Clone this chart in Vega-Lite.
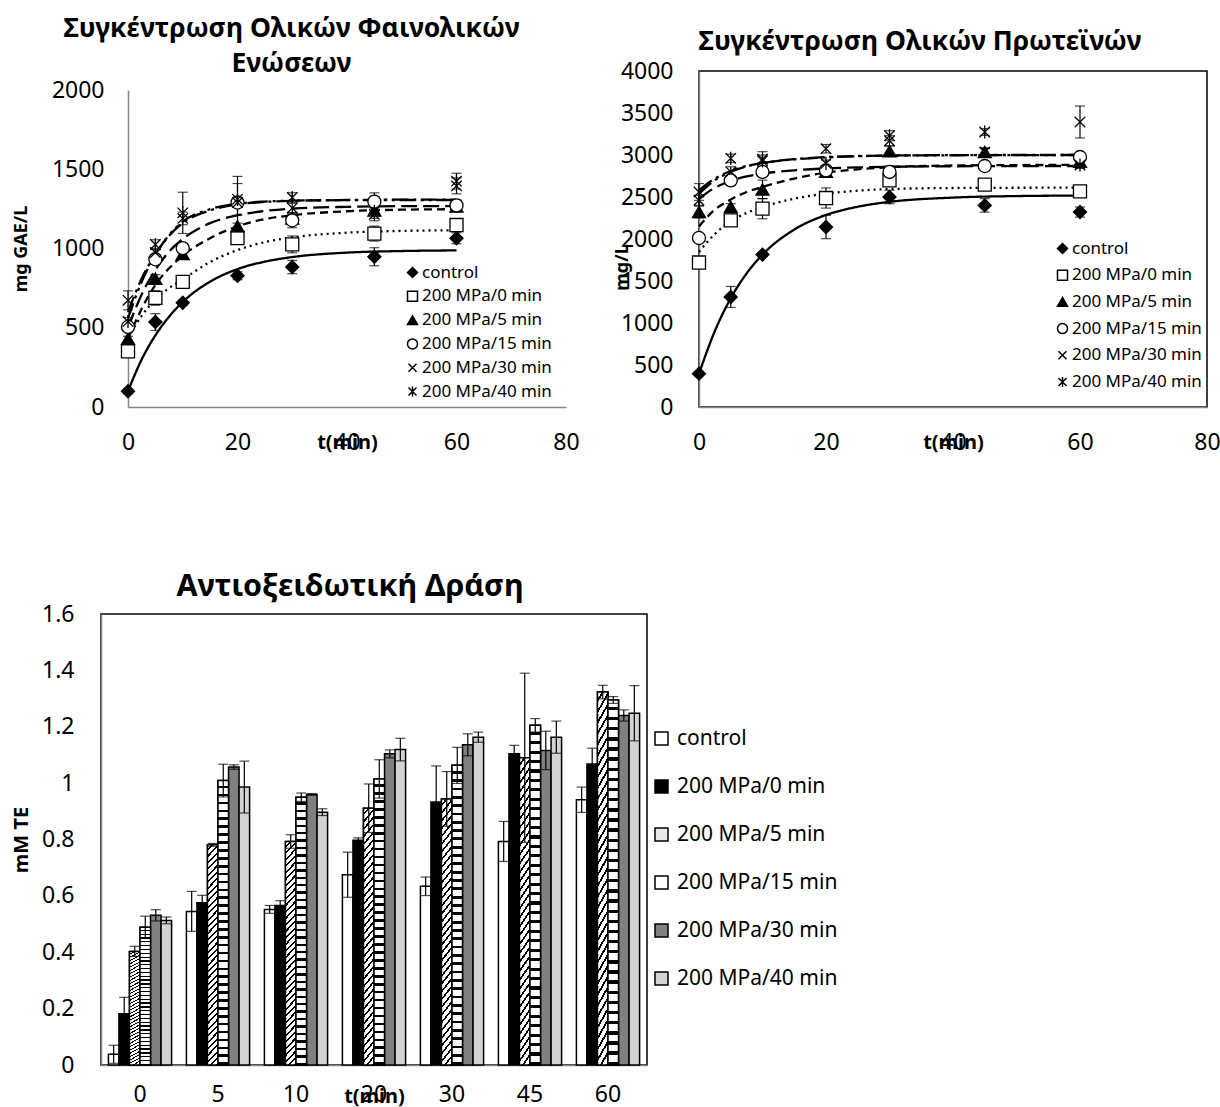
{
"$schema":"https://vega.github.io/schema/vega-lite/v6.json",
"background":"white",
"padding":{"left":10,"top":15,"right":0,"bottom":0},
"config":{
 "font":"Noto Sans",
 "view":{"stroke":"black","strokeWidth":1.5},
 "axis":{"grid":false,"ticks":false,"domainColor":"#868686","domainWidth":1.5,"labelColor":"black","labelFontSize":23,"titleColor":"black","titleFontWeight":"bold","zindex":1,"labelFlush":false,"labelOverlap":false},
 "legend":{"labelColor":"black","labelLimit":0},
 "title":{"color":"black","fontWeight":"bold"}
},
"datasets":{
"ptsA":[
{"t":0,"v":99,"e":15,"s":"control"},{"t":5,"v":536,"e":53,"s":"control"},{"t":10,"v":658,"e":15,"s":"control"},{"t":20,"v":828,"e":25,"s":"control"},{"t":30,"v":883,"e":42,"s":"control"},{"t":45,"v":948,"e":57,"s":"control"},{"t":60,"v":1065,"e":35,"s":"control"},
{"t":0,"v":351,"e":20,"s":"200 MPa/0 min"},{"t":5,"v":688,"e":46,"s":"200 MPa/0 min"},{"t":10,"v":789,"e":15,"s":"200 MPa/0 min"},{"t":20,"v":1066,"e":15,"s":"200 MPa/0 min"},{"t":30,"v":1026,"e":53,"s":"200 MPa/0 min"},{"t":45,"v":1094,"e":47,"s":"200 MPa/0 min"},{"t":60,"v":1148,"e":25,"s":"200 MPa/0 min"},
{"t":0,"v":431,"e":15,"s":"200 MPa/5 min"},{"t":5,"v":810,"e":25,"s":"200 MPa/5 min"},{"t":10,"v":965,"e":12,"s":"200 MPa/5 min"},{"t":20,"v":1140,"e":20,"s":"200 MPa/5 min"},{"t":30,"v":1190,"e":25,"s":"200 MPa/5 min"},{"t":45,"v":1240,"e":30,"s":"200 MPa/5 min"},{"t":60,"v":1265,"e":30,"s":"200 MPa/5 min"},
{"t":0,"v":505,"e":20,"s":"200 MPa/15 min"},{"t":5,"v":932,"e":30,"s":"200 MPa/15 min"},{"t":10,"v":1002,"e":20,"s":"200 MPa/15 min"},{"t":20,"v":1290,"e":30,"s":"200 MPa/15 min"},{"t":30,"v":1178,"e":47,"s":"200 MPa/15 min"},{"t":45,"v":1296,"e":55,"s":"200 MPa/15 min"},{"t":60,"v":1272,"e":35,"s":"200 MPa/15 min"},
{"t":0,"v":673,"e":60,"s":"200 MPa/30 min"},{"t":5,"v":975,"e":25,"s":"200 MPa/30 min"},{"t":10,"v":1190,"e":40,"s":"200 MPa/30 min"},{"t":20,"v":1290,"e":165,"s":"200 MPa/30 min"},{"t":30,"v":1255,"e":30,"s":"200 MPa/30 min"},{"t":45,"v":1215,"e":40,"s":"200 MPa/30 min"},{"t":60,"v":1395,"e":50,"s":"200 MPa/30 min"},
{"t":0,"v":540,"e":25,"s":"200 MPa/40 min"},{"t":5,"v":1025,"e":30,"s":"200 MPa/40 min"},{"t":10,"v":1225,"e":130,"s":"200 MPa/40 min"},{"t":20,"v":1310,"e":100,"s":"200 MPa/40 min"},{"t":30,"v":1322,"e":30,"s":"200 MPa/40 min"},{"t":45,"v":1235,"e":45,"s":"200 MPa/40 min"},{"t":60,"v":1425,"e":50,"s":"200 MPa/40 min"}
],
"curA":[
{"t":0,"v":100,"c":"control"},{"t":2.5,"v":300,"c":"control"},{"t":5,"v":452,"c":"control"},{"t":7.5,"v":570,"c":"control"},{"t":10,"v":663,"c":"control"},{"t":15,"v":791,"c":"control"},{"t":20,"v":870,"c":"control"},{"t":25,"v":917,"c":"control"},{"t":30,"v":946,"c":"control"},{"t":40,"v":974,"c":"control"},{"t":50,"v":984,"c":"control"},{"t":60,"v":988,"c":"control"},
{"t":0,"v":440,"c":"0 min"},{"t":2.5,"v":575,"c":"0 min"},{"t":5,"v":680,"c":"0 min"},{"t":7.5,"v":750,"c":"0 min"},{"t":10,"v":805,"c":"0 min"},{"t":15,"v":915,"c":"0 min"},{"t":20,"v":990,"c":"0 min"},{"t":25,"v":1040,"c":"0 min"},{"t":30,"v":1070,"c":"0 min"},{"t":40,"v":1100,"c":"0 min"},{"t":50,"v":1111,"c":"0 min"},{"t":60,"v":1115,"c":"0 min"},
{"t":0,"v":430,"c":"5 min"},{"t":2.5,"v":620,"c":"5 min"},{"t":5,"v":770,"c":"5 min"},{"t":7.5,"v":875,"c":"5 min"},{"t":10,"v":955,"c":"5 min"},{"t":15,"v":1065,"c":"5 min"},{"t":20,"v":1140,"c":"5 min"},{"t":25,"v":1185,"c":"5 min"},{"t":30,"v":1210,"c":"5 min"},{"t":40,"v":1235,"c":"5 min"},{"t":50,"v":1245,"c":"5 min"},{"t":60,"v":1248,"c":"5 min"},
{"t":0,"v":500,"c":"15 min"},{"t":2.5,"v":710,"c":"15 min"},{"t":5,"v":865,"c":"15 min"},{"t":7.5,"v":980,"c":"15 min"},{"t":10,"v":1060,"c":"15 min"},{"t":15,"v":1160,"c":"15 min"},{"t":20,"v":1210,"c":"15 min"},{"t":25,"v":1237,"c":"15 min"},{"t":30,"v":1252,"c":"15 min"},{"t":40,"v":1263,"c":"15 min"},{"t":50,"v":1267,"c":"15 min"},{"t":60,"v":1268,"c":"15 min"},
{"t":0,"v":600,"c":"30 min"},{"t":2.5,"v":810,"c":"30 min"},{"t":5,"v":965,"c":"30 min"},{"t":7.5,"v":1080,"c":"30 min"},{"t":10,"v":1160,"c":"30 min"},{"t":15,"v":1240,"c":"30 min"},{"t":20,"v":1278,"c":"30 min"},{"t":25,"v":1294,"c":"30 min"},{"t":30,"v":1301,"c":"30 min"},{"t":40,"v":1306,"c":"30 min"},{"t":50,"v":1308,"c":"30 min"},{"t":60,"v":1308,"c":"30 min"},
{"t":0,"v":560,"c":"40 min"},{"t":2.5,"v":790,"c":"40 min"},{"t":5,"v":960,"c":"40 min"},{"t":7.5,"v":1085,"c":"40 min"},{"t":10,"v":1170,"c":"40 min"},{"t":15,"v":1248,"c":"40 min"},{"t":20,"v":1282,"c":"40 min"},{"t":25,"v":1296,"c":"40 min"},{"t":30,"v":1302,"c":"40 min"},{"t":40,"v":1305,"c":"40 min"},{"t":50,"v":1306,"c":"40 min"},{"t":60,"v":1306,"c":"40 min"}
],
"ptsB":[
{"t":0,"v":397,"e":20,"s":"control"},{"t":5,"v":1310,"e":125,"s":"control"},{"t":10,"v":1814,"e":25,"s":"control"},{"t":20,"v":2143,"e":139,"s":"control"},{"t":30,"v":2500,"e":80,"s":"control"},{"t":45,"v":2400,"e":80,"s":"control"},{"t":60,"v":2321,"e":60,"s":"control"},
{"t":0,"v":1720,"e":25,"s":"200 MPa/0 min"},{"t":5,"v":2222,"e":30,"s":"200 MPa/0 min"},{"t":10,"v":2361,"e":120,"s":"200 MPa/0 min"},{"t":20,"v":2488,"e":120,"s":"200 MPa/0 min"},{"t":30,"v":2698,"e":40,"s":"200 MPa/0 min"},{"t":45,"v":2647,"e":50,"s":"200 MPa/0 min"},{"t":60,"v":2567,"e":50,"s":"200 MPa/0 min"},
{"t":0,"v":2321,"e":70,"s":"200 MPa/5 min"},{"t":5,"v":2381,"e":40,"s":"200 MPa/5 min"},{"t":10,"v":2591,"e":110,"s":"200 MPa/5 min"},{"t":20,"v":2800,"e":40,"s":"200 MPa/5 min"},{"t":30,"v":3045,"e":60,"s":"200 MPa/5 min"},{"t":45,"v":3036,"e":50,"s":"200 MPa/5 min"},{"t":60,"v":2920,"e":40,"s":"200 MPa/5 min"},
{"t":0,"v":2012,"e":40,"s":"200 MPa/15 min"},{"t":5,"v":2698,"e":50,"s":"200 MPa/15 min"},{"t":10,"v":2798,"e":40,"s":"200 MPa/15 min"},{"t":20,"v":2817,"e":40,"s":"200 MPa/15 min"},{"t":30,"v":2798,"e":70,"s":"200 MPa/15 min"},{"t":45,"v":2869,"e":40,"s":"200 MPa/15 min"},{"t":60,"v":2976,"e":50,"s":"200 MPa/15 min"},
{"t":0,"v":2560,"e":100,"s":"200 MPa/30 min"},{"t":5,"v":2800,"e":60,"s":"200 MPa/30 min"},{"t":10,"v":2950,"e":90,"s":"200 MPa/30 min"},{"t":20,"v":3075,"e":50,"s":"200 MPa/30 min"},{"t":30,"v":3170,"e":60,"s":"200 MPa/30 min"},{"t":45,"v":3036,"e":40,"s":"200 MPa/30 min"},{"t":60,"v":3393,"e":190,"s":"200 MPa/30 min"},
{"t":0,"v":2460,"e":60,"s":"200 MPa/40 min"},{"t":5,"v":2960,"e":50,"s":"200 MPa/40 min"},{"t":10,"v":2930,"e":70,"s":"200 MPa/40 min"},{"t":20,"v":2900,"e":40,"s":"200 MPa/40 min"},{"t":30,"v":3230,"e":60,"s":"200 MPa/40 min"},{"t":45,"v":3274,"e":40,"s":"200 MPa/40 min"},{"t":60,"v":2880,"e":40,"s":"200 MPa/40 min"}
],
"curB":[
{"t":0,"v":397,"c":"control"},{"t":2.5,"v":905,"c":"control"},{"t":5,"v":1295,"c":"control"},{"t":7.5,"v":1590,"c":"control"},{"t":10,"v":1814,"c":"control"},{"t":15,"v":2112,"c":"control"},{"t":20,"v":2286,"c":"control"},{"t":25,"v":2384,"c":"control"},{"t":30,"v":2442,"c":"control"},{"t":40,"v":2493,"c":"control"},{"t":50,"v":2511,"c":"control"},{"t":60,"v":2517,"c":"control"},
{"t":0,"v":1845,"c":"0 min"},{"t":2.5,"v":2060,"c":"0 min"},{"t":5,"v":2210,"c":"0 min"},{"t":7.5,"v":2310,"c":"0 min"},{"t":10,"v":2380,"c":"0 min"},{"t":15,"v":2480,"c":"0 min"},{"t":20,"v":2540,"c":"0 min"},{"t":25,"v":2575,"c":"0 min"},{"t":30,"v":2595,"c":"0 min"},{"t":40,"v":2607,"c":"0 min"},{"t":50,"v":2610,"c":"0 min"},{"t":60,"v":2611,"c":"0 min"},
{"t":0,"v":2150,"c":"5 min"},{"t":2.5,"v":2350,"c":"5 min"},{"t":5,"v":2470,"c":"5 min"},{"t":7.5,"v":2560,"c":"5 min"},{"t":10,"v":2620,"c":"5 min"},{"t":15,"v":2720,"c":"5 min"},{"t":20,"v":2790,"c":"5 min"},{"t":25,"v":2830,"c":"5 min"},{"t":30,"v":2855,"c":"5 min"},{"t":40,"v":2875,"c":"5 min"},{"t":50,"v":2880,"c":"5 min"},{"t":60,"v":2882,"c":"5 min"},
{"t":0,"v":2480,"c":"15 min"},{"t":2.5,"v":2610,"c":"15 min"},{"t":5,"v":2690,"c":"15 min"},{"t":7.5,"v":2745,"c":"15 min"},{"t":10,"v":2778,"c":"15 min"},{"t":15,"v":2818,"c":"15 min"},{"t":20,"v":2840,"c":"15 min"},{"t":25,"v":2852,"c":"15 min"},{"t":30,"v":2860,"c":"15 min"},{"t":40,"v":2866,"c":"15 min"},{"t":50,"v":2868,"c":"15 min"},{"t":60,"v":2869,"c":"15 min"},
{"t":0,"v":2580,"c":"30 min"},{"t":2.5,"v":2720,"c":"30 min"},{"t":5,"v":2810,"c":"30 min"},{"t":7.5,"v":2870,"c":"30 min"},{"t":10,"v":2905,"c":"30 min"},{"t":15,"v":2950,"c":"30 min"},{"t":20,"v":2975,"c":"30 min"},{"t":25,"v":2988,"c":"30 min"},{"t":30,"v":2994,"c":"30 min"},{"t":40,"v":2998,"c":"30 min"},{"t":50,"v":3000,"c":"30 min"},{"t":60,"v":3000,"c":"30 min"},
{"t":0,"v":2540,"c":"40 min"},{"t":2.5,"v":2700,"c":"40 min"},{"t":5,"v":2800,"c":"40 min"},{"t":7.5,"v":2865,"c":"40 min"},{"t":10,"v":2905,"c":"40 min"},{"t":15,"v":2948,"c":"40 min"},{"t":20,"v":2972,"c":"40 min"},{"t":25,"v":2985,"c":"40 min"},{"t":30,"v":2992,"c":"40 min"},{"t":40,"v":2997,"c":"40 min"},{"t":50,"v":2999,"c":"40 min"},{"t":60,"v":3000,"c":"40 min"}
],
"bars":[
{"t":"0","s":"control","v":0.038,"e":0.032},{"t":"0","s":"200 MPa/0 min","v":0.182,"e":0.058},{"t":"0","s":"200 MPa/5 min","v":0.403,"e":0.018},{"t":"0","s":"200 MPa/15 min","v":0.489,"e":0.039},{"t":"0","s":"200 MPa/30 min","v":0.531,"e":0.02},{"t":"0","s":"200 MPa/40 min","v":0.513,"e":0.012},
{"t":"5","s":"control","v":0.545,"e":0.071},{"t":"5","s":"200 MPa/0 min","v":0.576,"e":0.026},{"t":"5","s":"200 MPa/5 min","v":0.781,"e":0.005},{"t":"5","s":"200 MPa/15 min","v":1.009,"e":0.058},{"t":"5","s":"200 MPa/30 min","v":1.057,"e":0.008},{"t":"5","s":"200 MPa/40 min","v":0.986,"e":0.092},
{"t":"10","s":"control","v":0.552,"e":0.014},{"t":"10","s":"200 MPa/0 min","v":0.566,"e":0.017},{"t":"10","s":"200 MPa/5 min","v":0.793,"e":0.024},{"t":"10","s":"200 MPa/15 min","v":0.95,"e":0.015},{"t":"10","s":"200 MPa/30 min","v":0.96,"e":0.003},{"t":"10","s":"200 MPa/40 min","v":0.897,"e":0.012},
{"t":"20","s":"control","v":0.675,"e":0.08},{"t":"20","s":"200 MPa/0 min","v":0.797,"e":0.009},{"t":"20","s":"200 MPa/5 min","v":0.911,"e":0.086},{"t":"20","s":"200 MPa/15 min","v":1.015,"e":0.068},{"t":"20","s":"200 MPa/30 min","v":1.104,"e":0.014},{"t":"20","s":"200 MPa/40 min","v":1.119,"e":0.04},
{"t":"30","s":"control","v":0.634,"e":0.033},{"t":"30","s":"200 MPa/0 min","v":0.933,"e":0.128},{"t":"30","s":"200 MPa/5 min","v":0.944,"e":0.097},{"t":"30","s":"200 MPa/15 min","v":1.063,"e":0.064},{"t":"30","s":"200 MPa/30 min","v":1.136,"e":0.039},{"t":"30","s":"200 MPa/40 min","v":1.163,"e":0.018},
{"t":"45","s":"control","v":0.793,"e":0.071},{"t":"45","s":"200 MPa/0 min","v":1.104,"e":0.03},{"t":"45","s":"200 MPa/5 min","v":1.09,"e":0.3},{"t":"45","s":"200 MPa/15 min","v":1.205,"e":0.024},{"t":"45","s":"200 MPa/30 min","v":1.116,"e":0.068},{"t":"45","s":"200 MPa/40 min","v":1.163,"e":0.057},
{"t":"60","s":"control","v":0.941,"e":0.045},{"t":"60","s":"200 MPa/0 min","v":1.068,"e":0.056},{"t":"60","s":"200 MPa/5 min","v":1.323,"e":0.024},{"t":"60","s":"200 MPa/15 min","v":1.295,"e":0.012},{"t":"60","s":"200 MPa/30 min","v":1.24,"e":0.02},{"t":"60","s":"200 MPa/40 min","v":1.248,"e":0.098}
]
},
"spacing":115,
"resolve":{"scale":{"fill":"independent","shape":"independent","strokeDash":"independent"},"legend":{"fill":"independent","shape":"independent","strokeDash":"independent"}},
"vconcat":[
{"spacing":32,
 "resolve":{"scale":{"fill":"independent","shape":"independent","strokeDash":"independent"},"legend":{"fill":"independent","shape":"independent","strokeDash":"independent"}},
 "hconcat":[
 {"width":465,"height":336,
  "view":{"stroke":null},
  "title":{"text":["Συγκέντρωση Ολικών Φαινολικών","Ενώσεων"],"fontSize":26.5,"lineHeight":35,"dx":-42,"offset":-6},
  "encoding":{
   "x":{"field":"t","type":"quantitative","scale":{"domain":[0,80],"range":[27,465],"nice":false,"zero":false},"axis":{"values":[0,20,40,60,80],"title":"t(min)","titleFontSize":20,"titleY":35,"titleBaseline":"middle","labelPadding":24}},
   "y":{"field":"v","type":"quantitative","scale":{"domain":[0,2000],"range":[336,19],"nice":false},"axis":{"values":[0,500,1000,1500,2000],"format":"d","title":"mg GAE/L","titleFontSize":18,"offset":-27,"labelPadding":24,"titleX":-107,"titleY":177.5,"titleBaseline":"middle"}}
  },
  "layer":[
   {"data":{"values":[{}]},"mark":{"type":"rect","fill":null,"stroke":"black","strokeWidth":1.5},"encoding":{"x":{"datum":0,"type":"quantitative"},"x2":{"datum":80},"y":{"datum":0,"type":"quantitative"},"y2":{"datum":2000}}},
   {"data":{"name":"curA"},"mark":{"type":"line","interpolate":"monotone","color":"black","strokeWidth":2.3},"encoding":{"strokeDash":{"field":"c","type":"nominal","scale":{"domain":["control","0 min","5 min","15 min","30 min","40 min"],"range":[[1,0],[2,4],[8,5],[16,6],[16,5,3,5],[16,5,3,5,3,5]]},"legend":null}}},
   {"data":{"name":"ptsA"},"mark":{"type":"errorbar","ticks":{"size":10},"color":"black","thickness":1.2},"encoding":{"yError":{"field":"e"}}},
   {"data":{"name":"ptsA"},"mark":{"type":"point","stroke":"black","strokeWidth":1.3,"opacity":1,"size":170},
    "encoding":{
     "shape":{"field":"s","type":"nominal","scale":{"domain":["control","200 MPa/0 min","200 MPa/5 min","200 MPa/15 min","200 MPa/30 min","200 MPa/40 min"],"range":["diamond","square","triangle-up","circle","M-0.8,-0.8L0.8,0.8M0.8,-0.8L-0.8,0.8","M-0.8,-0.8L0.8,0.8M0.8,-0.8L-0.8,0.8M0,-1L0,1"]},"legend":{"title":null,"orient":"none","legendX":303,"legendY":193,"labelFontSize":17,"symbolSize":100,"rowPadding":5.8,"labelOffset":1,"padding":0,"encode":{"symbols":{"update":{"stroke":{"value":"black"},"strokeWidth":{"value":1.2}}}}}},
     "fill":{"field":"s","type":"nominal","scale":{"domain":["control","200 MPa/0 min","200 MPa/5 min","200 MPa/15 min","200 MPa/30 min","200 MPa/40 min"],"range":["black","white","black","white","transparent","transparent"]},"legend":{"title":null,"orient":"none","legendX":303,"legendY":193,"labelFontSize":17,"symbolSize":100,"rowPadding":5.8,"labelOffset":1,"padding":0,"encode":{"symbols":{"update":{"stroke":{"value":"black"},"strokeWidth":{"value":1.2}}}}}}
    }}
  ]
 },
 {"width":508,"height":336,
  "title":{"text":"Συγκέντρωση Ολικών Πρωτεϊνών","fontSize":26.5,"dx":-33,"offset":5},
  "encoding":{
   "x":{"field":"t","type":"quantitative","scale":{"domain":[0,80],"nice":false,"zero":false},"axis":{"values":[0,20,40,60,80],"title":"t(min)","titleFontSize":20,"titleY":35,"titleBaseline":"middle","labelPadding":24}},
   "y":{"field":"v","type":"quantitative","scale":{"domain":[0,4000],"nice":false},"axis":{"values":[0,500,1000,1500,2000,2500,3000,3500,4000],"format":"d","title":"mg/L","titleFontSize":18,"labelPadding":26,"titleX":-77,"titleY":196,"titleBaseline":"middle"}}
  },
  "layer":[
   {"data":{"name":"curB"},"mark":{"type":"line","interpolate":"monotone","color":"black","strokeWidth":2.3},"encoding":{"strokeDash":{"field":"c","type":"nominal","scale":{"domain":["control","0 min","5 min","15 min","30 min","40 min"],"range":[[1,0],[2,4],[8,5],[16,6],[16,5,3,5],[16,5,3,5,3,5]]},"legend":null}}},
   {"data":{"name":"ptsB"},"mark":{"type":"errorbar","ticks":{"size":10},"color":"black","thickness":1.2},"encoding":{"yError":{"field":"e"}}},
   {"data":{"name":"ptsB"},"mark":{"type":"point","stroke":"black","strokeWidth":1.3,"opacity":1,"size":170},
    "encoding":{
     "shape":{"field":"s","type":"nominal","scale":{"domain":["control","200 MPa/0 min","200 MPa/5 min","200 MPa/15 min","200 MPa/30 min","200 MPa/40 min"],"range":["diamond","square","triangle-up","circle","M-0.8,-0.8L0.8,0.8M0.8,-0.8L-0.8,0.8","M-0.8,-0.8L0.8,0.8M0.8,-0.8L-0.8,0.8M0,-1L0,1"]},"legend":{"title":null,"orient":"none","legendX":355,"legendY":169,"labelFontSize":17,"symbolSize":100,"rowPadding":8.7,"labelOffset":1,"padding":0,"encode":{"symbols":{"update":{"stroke":{"value":"black"},"strokeWidth":{"value":1.2}}}}}},
     "fill":{"field":"s","type":"nominal","scale":{"domain":["control","200 MPa/0 min","200 MPa/5 min","200 MPa/15 min","200 MPa/30 min","200 MPa/40 min"],"range":["black","white","black","white","transparent","transparent"]},"legend":{"title":null,"orient":"none","legendX":355,"legendY":169,"labelFontSize":17,"symbolSize":100,"rowPadding":8.7,"labelOffset":1,"padding":0,"encode":{"symbols":{"update":{"stroke":{"value":"black"},"strokeWidth":{"value":1.2}}}}}}
    }}
  ]
 }
 ]
},
{"width":546,"height":451,
 "title":{"text":"Αντιοξειδωτική Δράση","fontSize":30.5,"dx":-24,"offset":1},
 "data":{"name":"bars"},
 "encoding":{
  "x":{"field":"t","type":"nominal","sort":["0","5","10","20","30","45","60"],"scale":{"paddingInner":0.19,"paddingOuter":0.095},"axis":{"labelAngle":0,"title":"t(min)","titleFontSize":20,"titleY":31,"titleBaseline":"middle","labelPadding":18}},
  "xOffset":{"field":"s","type":"nominal","sort":["control","200 MPa/0 min","200 MPa/5 min","200 MPa/15 min","200 MPa/30 min","200 MPa/40 min"],"scale":{"paddingInner":0,"paddingOuter":0}},
  "y":{"field":"v","type":"quantitative","scale":{"domain":[0,1.6],"nice":false},"axis":{"values":[0,0.2,0.4,0.6,0.8,1,1.2,1.4,1.6],"format":"~g","title":"mM TE","titleFontSize":20,"labelPadding":27,"titleX":-80,"titleY":225.5,"titleBaseline":"middle"}}
 },
 "layer":[
  {"mark":{"type":"bar","stroke":"black","strokeWidth":1.5},
   "encoding":{"fill":{"field":"s","type":"nominal","scale":{"domain":["control","200 MPa/0 min","200 MPa/5 min","200 MPa/15 min","200 MPa/30 min","200 MPa/40 min"],"range":["white","black","#e8e8e8","white","#808080","#d3d3d3"]},
    "legend":{"title":null,"orient":"none","legendX":550,"legendY":114,"labelFontSize":21,"symbolType":"square","symbolSize":169,"rowPadding":26,"symbolStrokeColor":"black","symbolStrokeWidth":1.5,"labelOffset":5,"padding":0}}}},
  {"transform":[{"filter":{"field":"s","equal":"200 MPa/5 min"}}],
   "mark":{"type":"bar","stroke":"black","strokeWidth":1.5,"fill":{"gradient":"linear","x1":0,"y1":0,"x2":0.0524,"y2":1.0474,"stops":[
{"offset":0,"color":"white"},{"offset":0.0185,"color":"white"},{"offset":0.0185,"color":"black"},{"offset":0.0278,"color":"black"},
{"offset":0.0278,"color":"white"},{"offset":0.0463,"color":"white"},{"offset":0.0463,"color":"black"},{"offset":0.0556,"color":"black"},
{"offset":0.0556,"color":"white"},{"offset":0.0741,"color":"white"},{"offset":0.0741,"color":"black"},{"offset":0.0833,"color":"black"},
{"offset":0.0833,"color":"white"},{"offset":0.1019,"color":"white"},{"offset":0.1019,"color":"black"},{"offset":0.1111,"color":"black"},
{"offset":0.1111,"color":"white"},{"offset":0.1296,"color":"white"},{"offset":0.1296,"color":"black"},{"offset":0.1389,"color":"black"},
{"offset":0.1389,"color":"white"},{"offset":0.1574,"color":"white"},{"offset":0.1574,"color":"black"},{"offset":0.1667,"color":"black"},
{"offset":0.1667,"color":"white"},{"offset":0.1852,"color":"white"},{"offset":0.1852,"color":"black"},{"offset":0.1944,"color":"black"},
{"offset":0.1944,"color":"white"},{"offset":0.213,"color":"white"},{"offset":0.213,"color":"black"},{"offset":0.2222,"color":"black"},
{"offset":0.2222,"color":"white"},{"offset":0.2407,"color":"white"},{"offset":0.2407,"color":"black"},{"offset":0.25,"color":"black"},
{"offset":0.25,"color":"white"},{"offset":0.2685,"color":"white"},{"offset":0.2685,"color":"black"},{"offset":0.2778,"color":"black"},
{"offset":0.2778,"color":"white"},{"offset":0.2963,"color":"white"},{"offset":0.2963,"color":"black"},{"offset":0.3056,"color":"black"},
{"offset":0.3056,"color":"white"},{"offset":0.3241,"color":"white"},{"offset":0.3241,"color":"black"},{"offset":0.3333,"color":"black"},
{"offset":0.3333,"color":"white"},{"offset":0.3519,"color":"white"},{"offset":0.3519,"color":"black"},{"offset":0.3611,"color":"black"},
{"offset":0.3611,"color":"white"},{"offset":0.3796,"color":"white"},{"offset":0.3796,"color":"black"},{"offset":0.3889,"color":"black"},
{"offset":0.3889,"color":"white"},{"offset":0.4074,"color":"white"},{"offset":0.4074,"color":"black"},{"offset":0.4167,"color":"black"},
{"offset":0.4167,"color":"white"},{"offset":0.4352,"color":"white"},{"offset":0.4352,"color":"black"},{"offset":0.4444,"color":"black"},
{"offset":0.4444,"color":"white"},{"offset":0.463,"color":"white"},{"offset":0.463,"color":"black"},{"offset":0.4722,"color":"black"},
{"offset":0.4722,"color":"white"},{"offset":0.4907,"color":"white"},{"offset":0.4907,"color":"black"},{"offset":0.5,"color":"black"},
{"offset":0.5,"color":"white"},{"offset":0.5185,"color":"white"},{"offset":0.5185,"color":"black"},{"offset":0.5278,"color":"black"},
{"offset":0.5278,"color":"white"},{"offset":0.5463,"color":"white"},{"offset":0.5463,"color":"black"},{"offset":0.5556,"color":"black"},
{"offset":0.5556,"color":"white"},{"offset":0.5741,"color":"white"},{"offset":0.5741,"color":"black"},{"offset":0.5833,"color":"black"},
{"offset":0.5833,"color":"white"},{"offset":0.6019,"color":"white"},{"offset":0.6019,"color":"black"},{"offset":0.6111,"color":"black"},
{"offset":0.6111,"color":"white"},{"offset":0.6296,"color":"white"},{"offset":0.6296,"color":"black"},{"offset":0.6389,"color":"black"},
{"offset":0.6389,"color":"white"},{"offset":0.6574,"color":"white"},{"offset":0.6574,"color":"black"},{"offset":0.6667,"color":"black"},
{"offset":0.6667,"color":"white"},{"offset":0.6852,"color":"white"},{"offset":0.6852,"color":"black"},{"offset":0.6944,"color":"black"},
{"offset":0.6944,"color":"white"},{"offset":0.713,"color":"white"},{"offset":0.713,"color":"black"},{"offset":0.7222,"color":"black"},
{"offset":0.7222,"color":"white"},{"offset":0.7407,"color":"white"},{"offset":0.7407,"color":"black"},{"offset":0.75,"color":"black"},
{"offset":0.75,"color":"white"},{"offset":0.7685,"color":"white"},{"offset":0.7685,"color":"black"},{"offset":0.7778,"color":"black"},
{"offset":0.7778,"color":"white"},{"offset":0.7963,"color":"white"},{"offset":0.7963,"color":"black"},{"offset":0.8056,"color":"black"},
{"offset":0.8056,"color":"white"},{"offset":0.8241,"color":"white"},{"offset":0.8241,"color":"black"},{"offset":0.8333,"color":"black"},
{"offset":0.8333,"color":"white"},{"offset":0.8519,"color":"white"},{"offset":0.8519,"color":"black"},{"offset":0.8611,"color":"black"},
{"offset":0.8611,"color":"white"},{"offset":0.8796,"color":"white"},{"offset":0.8796,"color":"black"},{"offset":0.8889,"color":"black"},
{"offset":0.8889,"color":"white"},{"offset":0.9074,"color":"white"},{"offset":0.9074,"color":"black"},{"offset":0.9167,"color":"black"},
{"offset":0.9167,"color":"white"},{"offset":0.9352,"color":"white"},{"offset":0.9352,"color":"black"},{"offset":0.9444,"color":"black"},
{"offset":0.9444,"color":"white"},{"offset":0.963,"color":"white"},{"offset":0.963,"color":"black"},{"offset":0.9722,"color":"black"},
{"offset":0.9722,"color":"white"},{"offset":0.9907,"color":"white"},{"offset":0.9907,"color":"black"},{"offset":1,"color":"black"}
    ]}}},
  {"transform":[{"filter":{"field":"s","equal":"200 MPa/15 min"}}],
   "mark":{"type":"bar","stroke":"black","strokeWidth":1.5,"fill":{"gradient":"linear","x1":0,"y1":0,"x2":0,"y2":1,"stops":[
{"offset":0,"color":"white"},{"offset":0.0185,"color":"white"},{"offset":0.0185,"color":"black"},{"offset":0.0278,"color":"black"},
{"offset":0.0278,"color":"white"},{"offset":0.0463,"color":"white"},{"offset":0.0463,"color":"black"},{"offset":0.0556,"color":"black"},
{"offset":0.0556,"color":"white"},{"offset":0.0741,"color":"white"},{"offset":0.0741,"color":"black"},{"offset":0.0833,"color":"black"},
{"offset":0.0833,"color":"white"},{"offset":0.1019,"color":"white"},{"offset":0.1019,"color":"black"},{"offset":0.1111,"color":"black"},
{"offset":0.1111,"color":"white"},{"offset":0.1296,"color":"white"},{"offset":0.1296,"color":"black"},{"offset":0.1389,"color":"black"},
{"offset":0.1389,"color":"white"},{"offset":0.1574,"color":"white"},{"offset":0.1574,"color":"black"},{"offset":0.1667,"color":"black"},
{"offset":0.1667,"color":"white"},{"offset":0.1852,"color":"white"},{"offset":0.1852,"color":"black"},{"offset":0.1944,"color":"black"},
{"offset":0.1944,"color":"white"},{"offset":0.213,"color":"white"},{"offset":0.213,"color":"black"},{"offset":0.2222,"color":"black"},
{"offset":0.2222,"color":"white"},{"offset":0.2407,"color":"white"},{"offset":0.2407,"color":"black"},{"offset":0.25,"color":"black"},
{"offset":0.25,"color":"white"},{"offset":0.2685,"color":"white"},{"offset":0.2685,"color":"black"},{"offset":0.2778,"color":"black"},
{"offset":0.2778,"color":"white"},{"offset":0.2963,"color":"white"},{"offset":0.2963,"color":"black"},{"offset":0.3056,"color":"black"},
{"offset":0.3056,"color":"white"},{"offset":0.3241,"color":"white"},{"offset":0.3241,"color":"black"},{"offset":0.3333,"color":"black"},
{"offset":0.3333,"color":"white"},{"offset":0.3519,"color":"white"},{"offset":0.3519,"color":"black"},{"offset":0.3611,"color":"black"},
{"offset":0.3611,"color":"white"},{"offset":0.3796,"color":"white"},{"offset":0.3796,"color":"black"},{"offset":0.3889,"color":"black"},
{"offset":0.3889,"color":"white"},{"offset":0.4074,"color":"white"},{"offset":0.4074,"color":"black"},{"offset":0.4167,"color":"black"},
{"offset":0.4167,"color":"white"},{"offset":0.4352,"color":"white"},{"offset":0.4352,"color":"black"},{"offset":0.4444,"color":"black"},
{"offset":0.4444,"color":"white"},{"offset":0.463,"color":"white"},{"offset":0.463,"color":"black"},{"offset":0.4722,"color":"black"},
{"offset":0.4722,"color":"white"},{"offset":0.4907,"color":"white"},{"offset":0.4907,"color":"black"},{"offset":0.5,"color":"black"},
{"offset":0.5,"color":"white"},{"offset":0.5185,"color":"white"},{"offset":0.5185,"color":"black"},{"offset":0.5278,"color":"black"},
{"offset":0.5278,"color":"white"},{"offset":0.5463,"color":"white"},{"offset":0.5463,"color":"black"},{"offset":0.5556,"color":"black"},
{"offset":0.5556,"color":"white"},{"offset":0.5741,"color":"white"},{"offset":0.5741,"color":"black"},{"offset":0.5833,"color":"black"},
{"offset":0.5833,"color":"white"},{"offset":0.6019,"color":"white"},{"offset":0.6019,"color":"black"},{"offset":0.6111,"color":"black"},
{"offset":0.6111,"color":"white"},{"offset":0.6296,"color":"white"},{"offset":0.6296,"color":"black"},{"offset":0.6389,"color":"black"},
{"offset":0.6389,"color":"white"},{"offset":0.6574,"color":"white"},{"offset":0.6574,"color":"black"},{"offset":0.6667,"color":"black"},
{"offset":0.6667,"color":"white"},{"offset":0.6852,"color":"white"},{"offset":0.6852,"color":"black"},{"offset":0.6944,"color":"black"},
{"offset":0.6944,"color":"white"},{"offset":0.713,"color":"white"},{"offset":0.713,"color":"black"},{"offset":0.7222,"color":"black"},
{"offset":0.7222,"color":"white"},{"offset":0.7407,"color":"white"},{"offset":0.7407,"color":"black"},{"offset":0.75,"color":"black"},
{"offset":0.75,"color":"white"},{"offset":0.7685,"color":"white"},{"offset":0.7685,"color":"black"},{"offset":0.7778,"color":"black"},
{"offset":0.7778,"color":"white"},{"offset":0.7963,"color":"white"},{"offset":0.7963,"color":"black"},{"offset":0.8056,"color":"black"},
{"offset":0.8056,"color":"white"},{"offset":0.8241,"color":"white"},{"offset":0.8241,"color":"black"},{"offset":0.8333,"color":"black"},
{"offset":0.8333,"color":"white"},{"offset":0.8519,"color":"white"},{"offset":0.8519,"color":"black"},{"offset":0.8611,"color":"black"},
{"offset":0.8611,"color":"white"},{"offset":0.8796,"color":"white"},{"offset":0.8796,"color":"black"},{"offset":0.8889,"color":"black"},
{"offset":0.8889,"color":"white"},{"offset":0.9074,"color":"white"},{"offset":0.9074,"color":"black"},{"offset":0.9167,"color":"black"},
{"offset":0.9167,"color":"white"},{"offset":0.9352,"color":"white"},{"offset":0.9352,"color":"black"},{"offset":0.9444,"color":"black"},
{"offset":0.9444,"color":"white"},{"offset":0.963,"color":"white"},{"offset":0.963,"color":"black"},{"offset":0.9722,"color":"black"},
{"offset":0.9722,"color":"white"},{"offset":0.9907,"color":"white"},{"offset":0.9907,"color":"black"},{"offset":1,"color":"black"}
    ]}}},
  {"mark":{"type":"errorbar","ticks":{"size":10},"color":"black","thickness":1.2},"encoding":{"yError":{"field":"e"}}}
 ]
}
]
}
